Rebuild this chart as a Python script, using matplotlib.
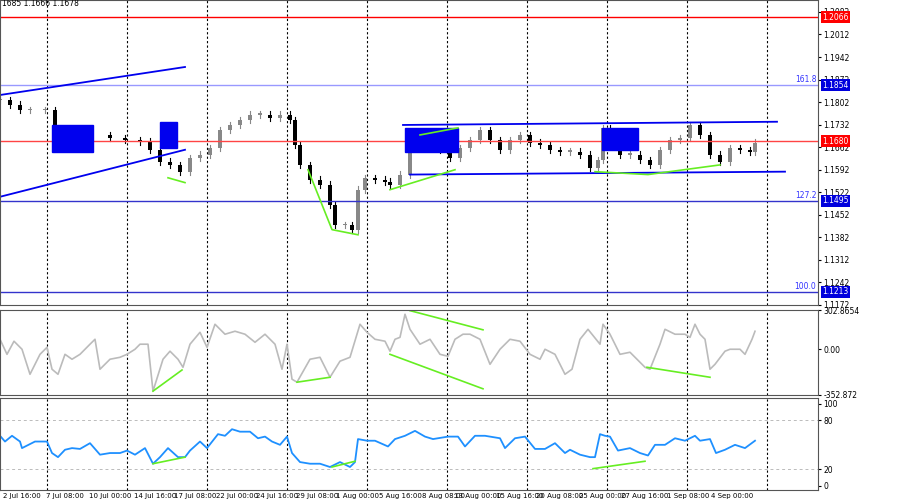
import matplotlib.pyplot as plt
import matplotlib.patches as mpatches

# price closes (x = bar position on the chart)
px = [0,10,20,30,45,55,70,90,110,125,140,150,160,170,180,190,200,210,220,230,240,250,260,270,280,290,295,300,310,320,330,335,345,352,358,365,375,385,390,400,410,420,430,440,450,460,470,480,490,500,510,520,530,540,550,560,570,580,590,598,603,610,620,630,640,650,660,670,680,690,700,710,720,730,740,750,755]
pc = [1.1809,1.1794,1.1778,1.1778,1.1778,1.1716,1.1716,1.1700,1.1691,1.1685,1.1679,1.1654,1.1617,1.1607,1.1586,1.1629,1.1639,1.1660,1.1716,1.1731,1.1747,1.1763,1.1763,1.1753,1.1763,1.1747,1.1669,1.1607,1.1561,1.1546,1.1483,1.1421,1.1421,1.1406,1.1530,1.1567,1.1561,1.1555,1.1546,1.1577,1.1685,1.1669,1.1669,1.1654,1.1629,1.1660,1.1685,1.1716,1.1685,1.1654,1.1685,1.1700,1.1676,1.1669,1.1654,1.1648,1.1648,1.1639,1.1598,1.1623,1.1722,1.1700,1.1639,1.1639,1.1623,1.1607,1.1654,1.1685,1.1691,1.1731,1.1700,1.1639,1.1617,1.1660,1.1654,1.1648,1.1676]

cx = [0,7,14,22,30,40,47,52,58,65,72,80,90,95,100,110,120,127,135,140,148,153,163,170,178,183,190,200,207,215,225,235,245,255,265,275,282,287,292,297,310,320,330,340,350,360,367,375,385,390,395,400,405,410,420,430,440,448,455,463,470,480,490,500,510,520,530,540,545,555,565,572,580,588,600,603,610,620,630,645,650,660,665,675,685,690,695,700,705,710,715,725,730,740,745,752,755]
cci = [77,-39,62,0,-193,-39,15,-154,-193,-39,-77,-39,39,77,-154,-77,-62,-39,0,39,39,-323,-77,-15,-77,-139,39,131,15,193,116,139,116,54,116,39,-154,39,-231,-254,-77,-62,-216,-92,-62,193,131,77,62,-15,77,92,270,154,39,77,-39,-54,77,116,116,77,-116,0,77,62,-39,-77,0,-39,-193,-154,77,154,39,193,116,-39,-23,-139,-154,39,154,116,116,92,193,116,77,-154,-116,-15,0,0,-39,77,139]

rx = [0,5,12,20,22,35,47,52,58,65,72,80,90,100,110,120,127,135,145,153,160,168,178,185,190,200,207,218,225,232,240,250,258,265,272,280,287,292,300,310,320,330,340,350,355,358,367,375,388,395,405,415,425,433,448,458,465,475,485,500,505,515,525,535,545,555,565,570,580,590,595,600,605,610,618,630,640,648,655,665,675,685,695,700,710,716,725,735,745,755]
rsi = [61,54,61,54,46,54,54,40,35,44,46,45,52,38,40,40,43,38,46,27,35,46,35,35,43,54,46,63,61,69,66,66,58,60,54,50,60,40,29,27,27,23,29,23,29,57,55,55,48,57,61,67,60,57,60,60,48,61,61,58,46,58,60,45,45,52,40,44,38,35,35,63,61,60,43,46,40,37,50,50,58,55,61,55,57,40,44,50,46,55]

date_x = [22,65,110,155,195,237,277,317,358,400,443,478,520,560,603,645,688,732]
date_lbl = ['2 Jul 16:00','7 Jul 08:00','10 Jul 00:00','14 Jul 16:00','17 Jul 08:00','22 Jul 00:00',
            '24 Jul 16:00','29 Jul 08:00','1 Aug 00:00','5 Aug 16:00','8 Aug 08:00','13 Aug 00:00',
            '15 Aug 16:00','20 Aug 08:00','25 Aug 00:00','27 Aug 16:00','1 Sep 08:00','4 Sep 00:00']
vlines = [47,127,207,287,367,447,527,607,687,767]

price_ticks = [1.2082,1.2012,1.1942,1.1872,1.1802,1.1732,1.1662,1.1592,1.1522,1.1452,1.1382,1.1312,1.1242,1.1172]
levels = [(1.2066,'red','#ff0000',''),(1.1854,'#9999ff','#0000dd','161.8'),(1.1680,'#ff4444','#ff0000',''),
          (1.1495,'#3333cc','#0000dd','127.2'),(1.1213,'#3333cc','#0000dd','100.0')]

fig = plt.figure(figsize=(9, 5), dpi=100)
W = 818 / 900
axp = fig.add_axes([0, 0.39, W, 0.61])
axc = fig.add_axes([0, 0.21, W, 0.17])
axr = fig.add_axes([0, 0.02, W, 0.184])
for a in (axp, axc, axr):
    a.set_xlim(0, 818)
    a.yaxis.tick_right()
    a.tick_params(axis='y', labelsize=5.5, length=2, pad=2)
    a.set_xticks([])
    for v in vlines:
        a.axvline(v, color='black', ls=(0, (2, 2)), lw=0.8)
    for s in a.spines.values():
        s.set_color('#555555')

# price panel
axp.set_ylim(1.1172, 1.2119)
axp.set_yticks(price_ticks)
axp.set_yticklabels([f'{t:.4f}' for t in price_ticks])
op = [pc[0]] + pc[:-1]
for x, o, c in zip(px, op, pc):
    col = 'black' if c < o else '#888888'
    axp.plot([x, x], [min(o, c) - 0.0010, max(o, c) + 0.0010], color=col, lw=0.8)
    axp.add_patch(mpatches.Rectangle((x - 2, min(o, c)), 4, max(abs(c - o), 0.0004), color=col, lw=0))
for y, lc, bc, txt in levels:
    axp.axhline(y, color=lc, lw=1)
    axp.text(1.005, y, f'{y:.4f}', transform=axp.get_yaxis_transform(), fontsize=5.5, color='white',
             va='center', zorder=10, bbox=dict(boxstyle='square,pad=0.2', fc=bc, ec='none'))
    if txt:
        axp.text(0.998, y + 0.0004, txt, transform=axp.get_yaxis_transform(), fontsize=5.5, color='#3333ff',
                 ha='right', va='bottom')
# channels and boxes
for xs, ys in [([0, 185], [1.1824, 1.1911]), ([0, 185], [1.1508, 1.1654]),
               ([403, 777], [1.1731, 1.1741]), ([410, 785], [1.1577, 1.1586])]:
    axp.plot(xs, ys, color='#0000ee', lw=1.3)
for x0, x1, y0, y1 in [(52, 93, 1.1648, 1.1731), (160, 177, 1.1660, 1.1741), (405, 458, 1.1648, 1.1722), (602, 638, 1.1654, 1.1722)]:
    axp.add_patch(mpatches.Rectangle((x0, y0), x1 - x0, y1 - y0, color='#0000ee', zorder=3))
for xs, ys in [([168, 185], [1.1567, 1.1552]), ([308, 332, 358], [1.1592, 1.1406, 1.1390]),
               ([390, 455], [1.1530, 1.1592]), ([420, 458], [1.1700, 1.1722]),
               ([595, 648, 720], [1.1586, 1.1577, 1.1607])]:
    axp.plot(xs, ys, color='#66ee22', lw=1.2, zorder=4)
axp.text(2, 1.2108, '1685 1.1666 1.1678', fontsize=5.5, va='center')

# CCI
axc.set_ylim(-352.872, 302.865)
axc.set_yticks([302.865, 0, -352.872])
axc.set_yticklabels(['302.8654', '0.00', '-352.872'])
axc.plot(cx, cci, color='#bbbbbb', lw=1.2)
for xs, ys in [([153, 182], [-323, -160]), ([297, 330], [-254, -216]), ([390, 483], [-39, -305]),
               ([410, 483], [298, 150]), ([647, 710], [-139, -216])]:
    axc.plot(xs, ys, color='#66ee22', lw=1.2)

# RSI
axr.set_ylim(-5, 107)
axr.set_yticks([100, 80, 20, 0])
for lv in (80, 20):
    axr.axhline(lv, color='#bbbbbb', ls=(0, (3, 3)), lw=0.7)
axr.plot(rx, rsi, color='#1e90ff', lw=1.3)
for xs, ys in [([153, 185], [27, 35]), ([332, 355], [23, 30]), ([593, 645], [21, 30])]:
    axr.plot(xs, ys, color='#66ee22', lw=1.2)
axr.set_xticks(date_x)
axr.set_xticklabels(date_lbl, fontsize=5)
axr.tick_params(axis='x', length=0, pad=2)

fig.savefig('out.png', dpi=100)
